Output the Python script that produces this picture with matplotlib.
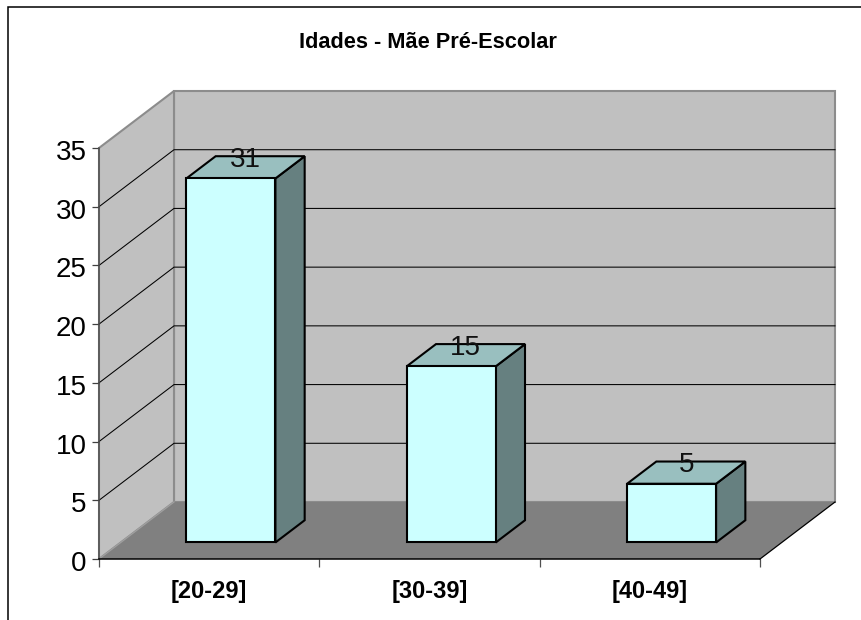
import matplotlib
matplotlib.use("Agg")
import matplotlib.pyplot as plt
from matplotlib.lines import Line2D
from matplotlib.patches import Polygon
from matplotlib.transforms import ScaledTranslation

plt.rcParams['font.family'] = ['Liberation Sans', 'DejaVu Sans']

title = "Idades - Mãe Pré-Escolar"
categories = ["[20-29]", "[30-39]", "[40-49]"]
values = [31, 15, 5]
y_ticks = [0, 5, 10, 15, 20, 25, 30, 35]
y_max = 35

W, H = 862, 620
fig = plt.figure(figsize=(W / 100, H / 100), dpi=100, facecolor='white')

# Front plane of the 3D box, in pixels
L, R, B, T = 99, 760, 559, 148
ax = fig.add_axes([L / W, 1 - B / H, (R - L) / W, (B - T) / H])
ax.set_xlim(0, len(categories))
ax.set_ylim(0, y_max)
ax.patch.set_visible(False)

# Depth shear expressed in data units
DX = 75 / ((R - L) / len(categories))
DY = 57 / ((B - T) / y_max)


def P(x, y, d=0.0):
    return (x + d * DX, y + d * DY)


WALL, FLOOR, EDGE = '#C0C0C0', '#808080', '#8C8C8C'
FRONT, TOP, SIDE = '#CCFFFF', '#99BFBF', '#668080'
n = len(categories)


def poly(pts, fc, ec='none', lw=0, z=1):
    ax.add_patch(Polygon(pts, closed=True, facecolor=fc, edgecolor=ec, linewidth=lw,
                         joinstyle='miter', clip_on=False, zorder=z))


# Walls and floor
poly([P(0, 0, 1), P(n, 0, 1), P(n, y_max, 1), P(0, y_max, 1)], WALL, EDGE, 1.5, 1)
poly([P(0, 0), P(0, 0, 1), P(0, y_max, 1), P(0, y_max)], WALL, EDGE, 1.5, 1)
poly([P(0, 0), P(n, 0), P(n, 0, 1), P(0, 0, 1)], FLOOR, 'none', 0, 2)
ax.plot(*zip(P(n, 0), P(n, 0, 1)), color='black', lw=0.9, clip_on=False, zorder=3)
ax.plot(*zip(P(0, 0), P(0, 0, 1)), color='#A0A0A0', lw=0.9, clip_on=False, zorder=3)

# Gridlines
for v in y_ticks[1:-1]:
    ax.plot(*zip(P(0, v), P(0, v, 1), P(n, v, 1)), color='black', lw=0.75,
            clip_on=False, zorder=3, solid_joinstyle='miter')

# Bars
bar_w = 0.404
d0, d1 = 0.29, 0.68
for i, v in enumerate(values):
    a, b = i + 0.5 - bar_w / 2, i + 0.5 + bar_w / 2
    poly([P(b, 0, d0), P(b, 0, d1), P(b, v, d1), P(b, v, d0)], SIDE, 'black', 1.5, 5)
    poly([P(a, v, d0), P(b, v, d0), P(b, v, d1), P(a, v, d1)], TOP, 'black', 1.5, 5)
    poly([P(a, 0, d0), P(b, 0, d0), P(b, v, d0), P(a, v, d0)], FRONT, 'black', 1.5, 6)
    ax.annotate(str(v), xy=P(i + 0.5, v, (d0 + d1) / 2), xytext=(0, 5.5),
                textcoords='offset points', ha='center', va='center',
                fontsize=20, color='#111111', zorder=7, annotation_clip=False)

# Axes
for s in ('top', 'right'):
    ax.spines[s].set_visible(False)
ax.spines['left'].set_color('#505050')
ax.spines['left'].set_linewidth(1.1)
ax.spines['bottom'].set_color('black')
ax.spines['bottom'].set_linewidth(1.1)
for s in ax.spines.values():
    s.set_zorder(4)
ax.set_yticks(y_ticks)
ax.set_yticklabels([str(t) for t in y_ticks])
ax.tick_params(axis='y', length=5, width=0.9, color='#404040', pad=4, labelsize=20, labelcolor='black')
shift = ScaledTranslation(0, -2 / 100, fig.dpi_scale_trans)
for lab in ax.get_yticklabels():
    lab.set_verticalalignment('center_baseline')
    lab.set_transform(lab.get_transform() + shift)
ax.set_xticks(range(n + 1))
ax.set_xticklabels([''] * (n + 1))
ax.tick_params(axis='x', length=6, width=0.9, color='#505050')
ax.set_xticks([i + 0.5 for i in range(n)], minor=True)
ax.set_xticklabels(categories, minor=True, fontweight='bold', fontsize=17)
ax.tick_params(axis='x', which='minor', length=0, pad=15)

# Title and chart-area frame
fig.text(428 / W, 1 - 43 / H, title, ha='center', va='center', fontweight='bold', fontsize=15.7)
fig.add_artist(Line2D([8.5 / W, 8.5 / W, 1], [0, 1 - 6.5 / H, 1 - 6.5 / H], color='black', lw=1.1,
                      transform=fig.transFigure, solid_joinstyle='miter'))

fig.savefig('out.png', dpi=100)
